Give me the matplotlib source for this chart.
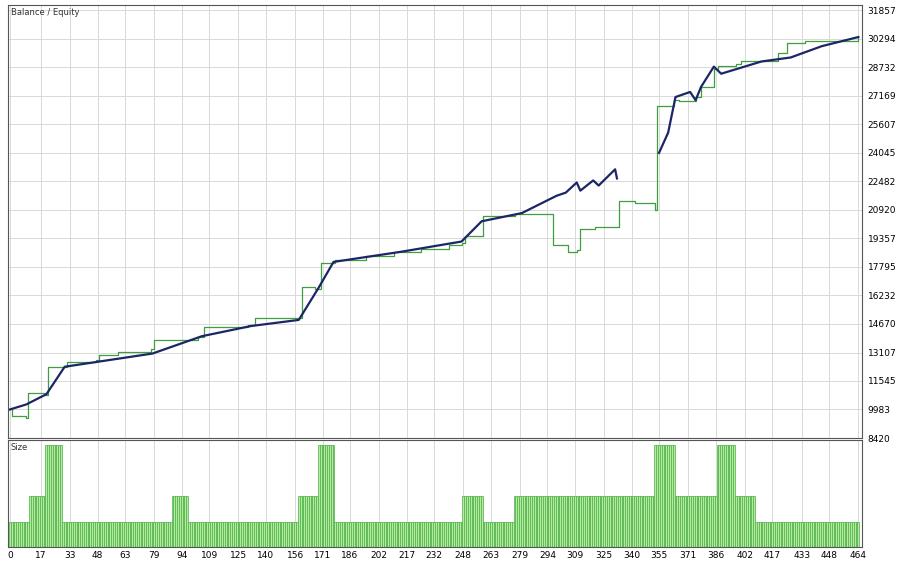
import numpy as np
import matplotlib
matplotlib.use("Agg")
import matplotlib.pyplot as plt

bal_x = [0, 9, 20, 30, 78, 105, 132, 158, 169, 177, 214, 247, 258, 280, 299, 304, 310, 312, 319, 322, 331, 332, 333, 355, 360, 364, 372, 375, 378, 385, 389, 411, 427, 444, 464]
bal_y = [9983, 10260, 10820, 12326, 13050, 14000, 14560, 14893, 16680, 18073, 18630, 19190, 20300, 20750, 21700, 21870, 22425, 21980, 22540, 22260, 23150, 22650, np.nan, 24050, 25160, 27110, 27390, 26940, 27670, 28780, 28390, 29060, 29280, 29900, 30400]

eq_x = [0, 1, 9, 10, 19, 21, 29, 31, 47, 49, 57, 59, 77, 79, 103, 106, 130, 134, 156, 160, 167, 170, 176, 178, 195, 210, 225, 240, 247, 249, 257, 259, 276, 286, 297, 305, 310, 312, 320, 328, 333, 342, 353, 354, 359, 363, 366, 375, 378, 385, 387, 397, 400, 411, 420, 425, 435, 464]
eq_y = [9983, 9600, 9500, 10900, 10750, 12300, 12330, 12600, 12700, 12950, 12950, 13150, 13300, 13800, 13950, 14500, 14600, 15000, 15000, 16700, 16600, 18000, 18000, 18200, 18400, 18600, 18800, 19000, 19100, 19500, 19500, 20600, 20700, 20700, 19000, 18600, 18700, 19900, 20000, 20000, 21400, 21300, 20900, 26620, 26620, 26950, 26900, 27100, 27650, 28650, 28790, 28900, 29060, 29100, 29500, 30100, 30200, 30400]

lot_values = [0.1, 0.2, 0.4, 0.1, 0.2, 0.1, 0.2, 0.4, 0.1, 0.2, 0.1, 0.2, 0.4, 0.2, 0.4, 0.2, 0.1]
lot_runs = [11, 9, 9, 60, 9, 60, 11, 9, 70, 11, 17, 77, 11, 23, 10, 11, 57]

yticks = [8420, 9983, 11545, 13107, 14670, 16232, 17795, 19357, 20920, 22482, 24045, 25607, 27169, 28732, 30294, 31857]
xticks = [0, 17, 33, 48, 63, 79, 94, 109, 125, 140, 156, 171, 186, 202, 217, 232, 248, 263, 279, 294, 309, 325, 340, 355, 371, 386, 402, 417, 433, 448, 464]

lots = np.repeat(lot_values, lot_runs)

fig = plt.figure(figsize=(9.03, 5.86), dpi=100)
W, H = 903, 586
ax = fig.add_axes([8/W, 1-438/H, 854/W, 433/H])
ax2 = fig.add_axes([8/W, 1-547/H, 854/W, 107/H], sharex=ax)

ax.plot(eq_x, eq_y, color="#3f9e3f", lw=0.9, drawstyle="steps-post")
ax.plot(bal_x, bal_y, color="#1c2566", lw=1.6)
ax.set_ylim(8420, 31857 + 300)
ax.set_xlim(-1, 466)
ax.set_yticks(yticks)
ax.set_xticks(xticks)
ax.yaxis.tick_right()
ax.tick_params(labelbottom=False, labelsize=6.5, length=0, pad=4)
ax.grid(True, color="#d9d9d9", lw=0.7)
ax.text(0.003, 0.993, "Balance / Equity", transform=ax.transAxes, fontsize=6, va="top", color="#333")

ax2.bar(np.arange(len(lots)), lots, width=1.0, color="#b5ec9c", edgecolor="#4caf4c", linewidth=0.5)
ax2.set_ylim(0, 0.42)
ax2.set_yticks([])
ax2.tick_params(labelsize=6.5, length=0, pad=3)
ax2.grid(True, axis="x", color="#d9d9d9", lw=0.7)
ax2.set_axisbelow(True)
ax2.text(0.003, 0.97, "Size", transform=ax2.transAxes, fontsize=6, va="top", color="#333")
for a in (ax, ax2):
    for s in a.spines.values():
        s.set_color("#555")
        s.set_linewidth(0.8)

fig.savefig("out.png", dpi=100)
